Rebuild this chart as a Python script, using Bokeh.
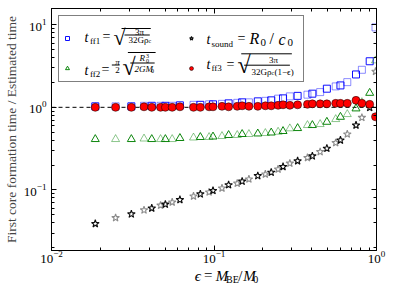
import math
from bokeh.plotting import figure
from bokeh.layouts import column
from bokeh.models import (ColumnDataSource, Span, Legend, LegendItem, LogAxis,
                          FixedTicker, LogTickFormatter, Range1d)
from bokeh.core.properties import value
from bokeh.embed import file_html
from bokeh.resources import INLINE

# ---------------- data ----------------
eps = [0.0186, 0.0248, 0.0310, 0.0371, 0.0414, 0.0469, 0.0502, 0.0553, 0.0617,
       0.0748, 0.0824, 0.0933, 0.0986, 0.112, 0.123, 0.139, 0.149, 0.164,
       0.186, 0.207, 0.225, 0.248, 0.266, 0.293, 0.327, 0.376, 0.403, 0.450,
       0.495, 0.561, 0.600, 0.661, 0.748, 0.813, 0.908, 0.986]
t_ff1 = [1.028, 1.028, 1.028, 1.043, 1.043, 1.043, 1.043, 1.043, 1.057,
         1.072, 1.072, 1.087, 1.087, 1.102, 1.117, 1.133, 1.149, 1.149,
         1.181, 1.198, 1.214, 1.273, 1.283, 1.357, 1.376, 1.422, 1.462, 1.528,
         1.680, 1.791, 1.841, 2.017, 2.498, 2.846, 3.61, 9.27]
t_ff2 = [0.411, 0.411, 0.411, 0.417, 0.411, 0.411, 0.411, 0.411, 0.423,
         0.429, 0.435, 0.435, 0.441, 0.447, 0.460, 0.460, 0.473, 0.473,
         0.480, 0.486, 0.493, 0.504, 0.514, 0.554, 0.558, 0.607, 0.607, 0.624,
         0.665, 0.717, 0.764, 0.824, 0.965, 1.15, 1.49, 3.68]
t_sound = [0.039, 0.046, 0.051, 0.057, 0.060, 0.065, 0.067, 0.071, 0.076,
           0.084, 0.089, 0.094, 0.098, 0.105, 0.115, 0.120, 0.127, 0.135,
           0.148, 0.155, 0.163, 0.178, 0.191, 0.210, 0.224, 0.245, 0.257, 0.289,
           0.318, 0.372, 0.400, 0.473, 0.607, 0.751, 0.99, 2.71]
t_ff3 = [1.0, 1.0, 1.0, 1.014, 1.0, 1.0, 1.0, 1.0, 1.014,
         1.0, 1.0, 1.014, 1.014, 1.028, 1.014, 1.028, 1.043, 1.028,
         1.028, 1.043, 1.043, 1.057, 1.072, 1.057, 1.072, 1.087, 1.102, 1.102,
         1.102, 1.117, 1.117, 1.117, 1.214, 1.117, 1.087, 0.768]
x_lim = (0.01, 1.0)
y_lim = (0.0185, 15.7)
x_major = [0.01, 0.1, 1.0]
x_minor = [0.02, 0.03, 0.04, 0.05, 0.06, 0.07, 0.08, 0.09,
           0.2, 0.3, 0.4, 0.5, 0.6, 0.7, 0.8, 0.9]
y_label = "First core formation time / Estimated time"

FONT = "Liberation Serif"
# frame edges in window pixels (used only to place the formula texts)
FL, FR, FT, FB = 50, 384, 8, 250
P_H = 268          # height of the main plot canvas
LBL_H = 27         # height of the strip holding the x-axis label
LBL_TOP = 267      # window y used as the strip's top edge for text placement

n = len(eps)
alpha = [0.95 if i % 2 == 0 else 0.45 for i in range(n)]
src = ColumnDataSource(dict(x=eps, f1=t_ff1, f2=t_ff2, s=t_sound, f3=t_ff3, a=alpha))

p = figure(width=390, height=P_H, x_axis_type="log", y_axis_type="log",
           x_range=x_lim, y_range=y_lim, output_backend="svg",
           toolbar_location=None, min_border_left=42, min_border_right=14,
           min_border_top=8, min_border_bottom=P_H - 8 - (FB - FT))
p.xgrid.visible = False
p.ygrid.visible = False
p.outline_line_color = "black"
p.outline_line_alpha = 1

p.add_layout(Span(location=1, dimension="width", line_color="black",
                  line_dash="4 3", line_width=1, level="underlay"))

r1 = p.scatter("x", "f1", source=src, marker="square", size=7, fill_color=None,
               line_color="blue", line_alpha="a", line_width=1)
r2 = p.scatter("x", "f2", source=src, marker="triangle", size=8, fill_color=None,
               line_color="green", line_alpha="a", line_width=1)
r3 = p.scatter("x", "s", source=src, marker="star", size=8, fill_color=None,
               line_color="black", line_alpha="a", line_width=1.1)
r4 = p.scatter("x", "f3", source=src, marker="circle", size=8, fill_color="red",
               line_color="black", line_width=0.5)

p.xaxis.ticker = FixedTicker(ticks=x_major, minor_ticks=x_minor)
p.xaxis.formatter = LogTickFormatter()

for ax in (p.xaxis[0], p.yaxis[0]):
    ax.major_tick_in = 5
    ax.major_tick_out = 0
    ax.minor_tick_in = 3
    ax.minor_tick_out = 0
    ax.axis_line_color = "black"
    ax.major_label_text_font = FONT
    ax.major_label_text_font_size = "13px"
    ax.major_label_text_color = "black"
p.xaxis.major_label_standoff = 0
p.yaxis.major_label_standoff = 5
p.yaxis.axis_label = y_label
p.yaxis.axis_label_text_font = FONT
p.yaxis.axis_label_text_font_style = "normal"
p.yaxis.axis_label_text_font_size = "13.5px"
p.yaxis.axis_label_standoff = 2

for place in ("above", "right"):
    ax = LogAxis(major_tick_in=5, major_tick_out=0, minor_tick_in=3, minor_tick_out=0,
                 major_label_text_font_size="1px", major_label_text_alpha=0,
                 major_label_standoff=0)
    if place == "above":
        ax.ticker = FixedTicker(ticks=x_major, minor_ticks=x_minor)
    p.add_layout(ax, place)

legend = Legend(items=[LegendItem(label=value(" "), renderers=[r1]),
                       LegendItem(label=value(" "), renderers=[r2]),
                       LegendItem(label=value(" "), renderers=[r3]),
                       LegendItem(label=value(" "), renderers=[r4])],
                location="top_left", orientation="vertical", ncols=2,
                margin=7, padding=3, spacing=10, glyph_width=10, glyph_height=20,
                label_standoff=5, label_width=99, label_height=20,
                title=" ", title_text_font_size="7px", title_standoff=2,
                border_line_color="black", border_line_width=1,
                background_fill_alpha=0)
p.add_layout(legend)

# ------------- formula texts (drawn as text glyphs, pixel offsets) -------------
LX0, LX1 = math.log10(x_lim[0]), math.log10(x_lim[1])
LY0, LY1 = math.log10(y_lim[0]), math.log10(y_lim[1])


def px2x(px):
    return 10 ** (LX0 + (px - FL) / (FR - FL) * (LX1 - LX0))


def py2y(py):
    return 10 ** (LY0 + (FB - py) / (FB - FT) * (LY1 - LY0))


pieces = []


def lab(text, px, py, size, style="normal", align="left"):
    pieces.append((text, px, py, size, style, align))


bars = []


def hline(x0, x1, py):
    bars.append((x0, x1, py))


# t_ff1 = sqrt(3pi / 32 G rho_c)
lab("t", 83, 37, 14, "italic")
lab("ff1", 88.5, 40.5, 9)
lab("=", 101, 36, 14)
lab("√", 112, 37, 22)
hline(122, 152, 28)
lab("3π", 138, 31.5, 9, align="center")
hline(125, 151, 34.5)
lab("32Gρ", 127, 39, 9)
lab("c", 147, 40.5, 6)

# t_ff2 = pi/2 sqrt(R0^3 / 2 G M0)
lab("t", 83, 70, 14, "italic")
lab("ff2", 88.5, 73.5, 9)
lab("=", 100, 69, 14)
lab("π", 116, 61, 9, "italic", "center")
hline(112, 120, 64.5)
lab("2", 116, 69, 9, align="center")
lab("√", 121, 66, 24)
hline(128.5, 157, 52)
lab("R", 138, 57.5, 9, "italic")
lab("3", 144.5, 55, 6)
lab("0", 144.5, 60, 6)
hline(131, 156, 62.5)
lab("2GM", 133, 68, 9, "italic")
lab("0", 149.5, 70, 6)

# t_sound = R0 / c0
lab("t", 205, 39, 14, "italic")
lab("sound", 210, 43, 9)
lab("=", 236, 38, 14)
lab("R", 248, 38, 16, "italic")
lab("0", 259, 42, 11)
lab("/", 268, 38, 16)
lab("c", 277, 39, 16, "italic")
lab("0", 286, 42, 11)

# t_ff3 = sqrt(3pi / 32 G rho_c (1-eps))
lab("t", 205, 64, 14, "italic")
lab("ff3", 210, 67.5, 9)
lab("=", 225, 63.5, 14)
lab("√", 236, 64, 24)
hline(245, 297, 53.3)
lab("3π", 272, 59.5, 9, align="center")
hline(248, 295, 64.7)
lab("32Gρ", 250, 71, 9)
lab("c", 270, 72.5, 6)
lab("(1−ϵ)", 273, 71, 9)


def draw_texts(fig, items_list, x_of, y_of, xo_of, yo_of):
    groups = {}
    for t, px, py, size, style, align in items_list:
        groups.setdefault((size, style, align), []).append((t, px, py))
    for (size, style, align), items in groups.items():
        fig.text(x=[x_of(it[1]) for it in items], y=[y_of(it[2]) for it in items],
                 text=[it[0] for it in items],
                 x_offset=[xo_of(it[1]) for it in items],
                 y_offset=[yo_of(it[2]) for it in items],
                 text_font=value(FONT), text_font_size=f"{size}px",
                 text_font_style=style, text_align=align, text_baseline="middle",
                 text_color="black")


draw_texts(p, pieces, lambda px: x_lim[0], lambda py: y_lim[0],
           lambda px: px - FL, lambda py: py - FB)

p.segment(x0=[px2x(b[0]) for b in bars], x1=[px2x(b[1]) for b in bars],
          y0=[py2y(b[2]) for b in bars], y1=[py2y(b[2]) for b in bars],
          line_color="black", line_width=1)

# ------------- x axis label strip: eps = M_BE / M_0 -------------
q = figure(width=390, height=LBL_H, x_range=Range1d(0, 390), y_range=Range1d(LBL_H, 0),
           output_backend="svg", toolbar_location=None, x_axis_location=None,
           y_axis_location=None, min_border=0)
q.xgrid.visible = False
q.ygrid.visible = False
q.outline_line_color = None

pieces = []
lab("ϵ", 180, 274, 15, "italic")
lab("=", 191, 273, 15)
lab("M", 205, 274, 15, "italic")
lab("BE", 217.5, 277.5, 10)
lab("/", 232, 274, 15)
lab("M", 238, 274, 15, "italic")
lab("0", 250, 278, 10)
draw_texts(q, pieces, lambda px: px - 8, lambda py: py - LBL_TOP,
           lambda px: 0, lambda py: 0)

layout = column(p, q, spacing=0)
open("out.html", "w").write(file_html(layout, INLINE))
